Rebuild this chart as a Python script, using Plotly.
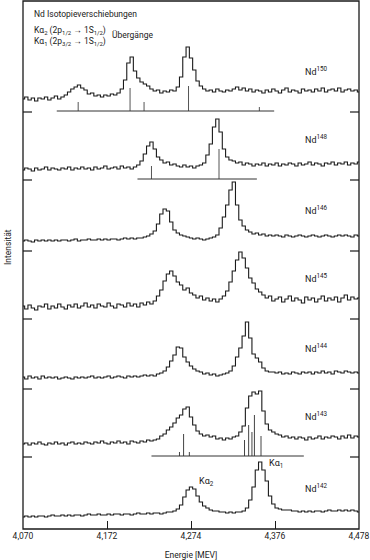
import plotly.graph_objects as go

# ---------------- data ----------------
CHANNEL_START = 4.070   # MeV, first channel
CHANNEL_STEP = 0.004    # MeV per channel
N_CHANNELS = 103

ISOTOPE_LABELS = ["Nd<sup>150</sup>", "Nd<sup>148</sup>", "Nd<sup>146</sup>", "Nd<sup>145</sup>",
                  "Nd<sup>144</sup>", "Nd<sup>143</sup>", "Nd<sup>142</sup>"]

# intensities (arbitrary units), one value per channel
COUNTS_ND150 = [12, 14, 11, 13, 10, 13, 12, 14, 11, 13,
                15, 12, 14, 16, 19, 22, 24, 26, 23, 21,
                17, 18, 15, 16, 14, 16, 15, 17, 16, 18,
                22, 31, 48, 54, 40, 33, 29, 27, 25, 22,
                20, 21, 18, 20, 19, 21, 20, 24, 34, 54,
                64, 53, 41, 30, 25, 22, 20, 21, 19, 22,
                20, 19, 21, 20, 22, 24, 21, 23, 20, 22,
                19, 21, 20, 18, 21, 19, 22, 20, 18, 21,
                23, 19, 21, 20, 18, 22, 20, 21, 19, 22,
                20, 23, 19, 21, 22, 20, 23, 19, 21, 22,
                20, 21, 19]
COUNTS_ND148 = [9, 11, 10, 8, 11, 9, 10, 12, 9, 11,
                10, 9, 11, 10, 12, 9, 11, 10, 12, 10,
                11, 9, 12, 10, 11, 13, 10, 11, 12, 10,
                13, 11, 12, 10, 12, 14, 18, 25, 33, 37,
                30, 22, 19, 16, 17, 14, 15, 13, 12, 14,
                12, 13, 11, 13, 14, 16, 24, 35, 52, 60,
                47, 30, 22, 19, 18, 16, 17, 14, 16, 15,
                13, 15, 14, 16, 13, 15, 14, 16, 13, 15,
                14, 16, 15, 13, 16, 14, 15, 17, 14, 16,
                15, 13, 16, 15, 17, 14, 16, 15, 17, 14,
                16, 15, 17]
COUNTS_ND146 = [9, 10, 9, 8, 10, 9, 10, 9, 10, 9,
                10, 9, 10, 10, 9, 10, 11, 9, 10, 10,
                11, 10, 10, 11, 10, 11, 10, 11, 11, 10,
                11, 12, 11, 12, 11, 12, 12, 13, 14, 16,
                19, 26, 36, 41, 39, 28, 20, 17, 15, 14,
                13, 12, 11, 12, 11, 10, 11, 12, 13, 15,
                22, 33, 45, 60, 68, 45, 30, 24, 20, 18,
                16, 17, 15, 16, 14, 15, 14, 15, 14, 13,
                15, 14, 13, 14, 15, 14, 13, 14, 15, 14,
                13, 14, 15, 14, 13, 14, 15, 14, 15, 14,
                13, 15, 14]
COUNTS_ND145 = [12, 9, 13, 10, 8, 12, 11, 14, 9, 12,
                10, 14, 11, 9, 13, 11, 14, 10, 12, 15,
                11, 13, 10, 14, 12, 11, 15, 12, 10, 14,
                13, 11, 15, 12, 14, 11, 15, 13, 16, 14,
                17, 22, 28, 37, 44, 47, 42, 36, 33, 28,
                30, 25, 23, 20, 22, 18, 20, 17, 19, 16,
                19, 22, 27, 36, 47, 58, 66, 60, 50, 40,
                35, 29, 26, 23, 20, 22, 17, 19, 21, 16,
                19, 22, 17, 20, 18, 15, 21, 18, 20, 16,
                19, 22, 17, 20, 18, 21, 16, 20, 23, 18,
                21, 19, 20]
COUNTS_ND144 = [11, 9, 12, 10, 11, 9, 12, 10, 11, 10,
                11, 9, 10, 11, 10, 9, 11, 10, 11, 10,
                11, 12, 10, 11, 10, 11, 12, 10, 11, 12,
                11, 10, 12, 11, 12, 11, 12, 13, 12, 13,
                12, 14, 15, 17, 21, 27, 33, 41, 40, 31,
                26, 22, 19, 17, 16, 14, 15, 13, 14, 12,
                13, 14, 15, 17, 22, 31, 40, 52, 66, 50,
                34, 30, 26, 20, 17, 16, 16, 15, 16, 14,
                15, 14, 16, 15, 14, 16, 15, 16, 14, 16,
                15, 17, 15, 16, 14, 17, 16, 15, 17, 16,
                15, 16, 15]
COUNTS_ND143 = [12, 13, 11, 13, 12, 14, 12, 11, 13, 12,
                14, 12, 13, 11, 13, 14, 12, 13, 12, 14,
                13, 12, 14, 13, 15, 13, 12, 14, 13, 15,
                13, 14, 12, 15, 14, 13, 15, 14, 16, 15,
                16, 17, 20, 22, 26, 29, 33, 38, 41, 47,
                49, 39, 31, 25, 22, 20, 21, 19, 20, 17,
                18, 16, 18, 17, 19, 20, 24, 30, 48, 60,
                64, 62, 65, 45, 32, 26, 24, 22, 21, 19,
                20, 18, 19, 17, 19, 18, 16, 19, 17, 18,
                20, 17, 19, 18, 20, 19, 17, 20, 18, 21,
                18, 20, 19]
COUNTS_ND142 = [11, 12, 11, 12, 11, 12, 12, 11, 12, 13,
                12, 12, 13, 12, 13, 12, 13, 13, 12, 13,
                14, 13, 13, 14, 13, 13, 14, 13, 14, 14,
                13, 14, 14, 13, 14, 15, 14, 14, 15, 14,
                15, 15, 14, 15, 16, 16, 17, 19, 23, 31,
                38, 41, 39, 32, 26, 22, 20, 18, 17, 17,
                16, 16, 15, 16, 15, 16, 16, 17, 20, 28,
                41, 58, 66, 58, 47, 32, 24, 20, 19, 18,
                18, 18, 17, 17, 16, 17, 16, 17, 16, 17,
                17, 16, 17, 18, 17, 17, 18, 17, 18, 17,
                18, 17, 16]

SPECTRA = [COUNTS_ND150, COUNTS_ND148, COUNTS_ND146, COUNTS_ND145,
           COUNTS_ND144, COUNTS_ND143, COUNTS_ND142]

# calculated transition lines (energy MeV, relative height) and the span of their base line
STICK_E_ND150 = [4.137, 4.200, 4.217, 4.271, 4.357]
STICK_H_ND150 = [9, 23, 9, 25, 4]
STICK_SPAN_ND150 = [4.111, 4.375]
STICK_E_ND148 = [4.226, 4.308]
STICK_H_ND148 = [13, 30]
STICK_SPAN_ND148 = [4.209, 4.354]
STICK_E_ND143 = [4.260, 4.265, 4.272, 4.339, 4.344, 4.348, 4.351, 4.359]
STICK_H_ND143 = [4, 22, 4, 16, 31, 24, 41, 20]
STICK_SPAN_ND143 = [4.226, 4.411]

PEAK_LABELS = ["Kα<sub>2</sub>", "Kα<sub>1</sub>"]
PEAK_LABEL_E = [4.281, 4.366]
PEAK_LABEL_H = [46, 64]

TICK_VALUES = [4.070, 4.172, 4.274, 4.376, 4.478]
TICK_LABELS = ["4,070", "4,172", "4,274", "4,376", "4,478"]

TITLE = "Nd Isotopieverschiebungen"
LINE_KA2 = "Kα<sub>2</sub> (2p<sub>1/2</sub> → 1S<sub>1/2</sub>)"
LINE_KA1 = "Kα<sub>1</sub> (2p<sub>3/2</sub> → 1S<sub>1/2</sub>)"
LINE_NOTE = "Übergänge"
X_TITLE = "Energie [MEV]"
Y_TITLE = "Intensität"

# ---------------- layout ----------------
W, H = 370, 560
ML, MR, MT, MB = 23, 11, 1, 31
PLOT_H = H - MT - MB
PLOT_W = W - ML - MR
PANEL_EDGES_PX = [1, 112, 180, 251, 319, 389, 457, 529]
FONT = "Roboto, 'Liberation Sans', sans-serif"
FS = 8.5
INK = "#1a1a1a"

energy = [round(CHANNEL_START + i * CHANNEL_STEP, 3) for i in range(N_CHANNELS)]

def py2paper(py):
    return (H - MB - py) / PLOT_H

def px2paper(px):
    return (px - ML) / PLOT_W

def yref_of(k):
    return "y" if k == 0 else f"y{k+1}"

fig = go.Figure()
n = len(SPECTRA)
for k, counts in enumerate(SPECTRA):
    fig.add_trace(go.Scatter(x=energy, y=counts, mode="lines", xaxis="x", yaxis=yref_of(k),
                             line=dict(color=INK, width=1.1, shape="hvh"), showlegend=False,
                             hoverinfo="skip"))

def add_sticks(k, es, hs, span, color="#555"):
    xs, ys = [], []
    for e, h in zip(es, hs):
        xs += [e, e, None]
        ys += [0, h, None]
    fig.add_trace(go.Scatter(x=xs, y=ys, mode="lines", xaxis="x", yaxis=yref_of(k),
                             line=dict(color=color, width=1), showlegend=False, hoverinfo="skip"))
    fig.add_trace(go.Scatter(x=span, y=[0, 0], mode="lines", xaxis="x", yaxis=yref_of(k),
                             line=dict(color="#333", width=1), showlegend=False, hoverinfo="skip"))

add_sticks(0, STICK_E_ND150, STICK_H_ND150, STICK_SPAN_ND150)
add_sticks(1, STICK_E_ND148, STICK_H_ND148, STICK_SPAN_ND148)
add_sticks(5, STICK_E_ND143, STICK_H_ND143, STICK_SPAN_ND143, color="#444")

layout = dict(
    width=W, height=H,
    margin=dict(l=ML, r=MR, t=MT, b=MB, autoexpand=False),
    paper_bgcolor="white", plot_bgcolor="white",
    font=dict(family=FONT, size=FS, color=INK),
    showlegend=False,
)
layout["xaxis"] = dict(range=[TICK_VALUES[0], TICK_VALUES[-1]], tickvals=TICK_VALUES, ticktext=TICK_LABELS,
                       ticks="inside", ticklen=8, tickwidth=1, tickcolor=INK, showgrid=False,
                       zeroline=False, showline=False, anchor=f"y{n}", ticklabeloverflow="allow",
                       tickfont=dict(size=FS, family=FONT, color=INK),
                       title=dict(text=X_TITLE, font=dict(size=FS, family=FONT, color=INK), standoff=13))
for k in range(n):
    top, bot = PANEL_EDGES_PX[k], PANEL_EDGES_PX[k + 1]
    hpx = bot - top
    ax = dict(domain=[py2paper(bot), py2paper(top)], range=[-1, hpx - 1], anchor="x",
              showticklabels=False, showgrid=False, zeroline=False, showline=False,
              ticks="", fixedrange=True)
    layout["yaxis" if k == 0 else f"yaxis{k+1}"] = ax

fig.update_layout(**layout)

# frame
fig.add_shape(type="rect", xref="paper", yref="paper", x0=0, x1=1, y0=0, y1=1,
              line=dict(color=INK, width=1.3), layer="above")
# separator ticks between panels (left and right, pointing inwards)
TL = 9 / PLOT_W
for k in range(n - 1):
    yb = py2paper(PANEL_EDGES_PX[k + 1])
    for x0, x1 in ((0, TL), (1 - TL, 1)):
        fig.add_shape(type="line", xref="paper", yref="paper", x0=x0, x1=x1, y0=yb, y1=yb,
                      line=dict(color=INK, width=1.2), layer="above")

ann = []
for k, lab in enumerate(ISOTOPE_LABELS):
    ann.append(dict(x=4.410, y=40, xref="x", yref=yref_of(k), text=lab, showarrow=False,
                    xanchor="left", yanchor="middle", font=dict(size=9)))
for lab, e, h in zip(PEAK_LABELS, PEAK_LABEL_E, PEAK_LABEL_H):
    ann.append(dict(x=e, y=h, xref="x", yref=yref_of(n - 1), text=lab, showarrow=False,
                    xanchor="left", yanchor="middle", font=dict(size=9)))
ann.append(dict(x=px2paper(32), y=py2paper(14), xref="paper", yref="paper", text=TITLE,
                showarrow=False, xanchor="left", yanchor="middle", font=dict(size=FS)))
ann.append(dict(x=px2paper(32), y=py2paper(30), xref="paper", yref="paper", text=LINE_KA2,
                showarrow=False, xanchor="left", yanchor="middle", font=dict(size=FS)))
ann.append(dict(x=px2paper(32), y=py2paper(42), xref="paper", yref="paper", text=LINE_KA1,
                showarrow=False, xanchor="left", yanchor="middle", font=dict(size=FS)))
ann.append(dict(x=px2paper(110), y=py2paper(35), xref="paper", yref="paper", text=LINE_NOTE,
                showarrow=False, xanchor="left", yanchor="middle", font=dict(size=FS)))
ann.append(dict(x=px2paper(8), y=py2paper(247), xref="paper", yref="paper", text=Y_TITLE,
                showarrow=False, xanchor="center", yanchor="middle", textangle=-90, font=dict(size=FS)))
fig.update_layout(annotations=ann)

fig.write_html("out.html", config=dict(displayModeBar=False))
